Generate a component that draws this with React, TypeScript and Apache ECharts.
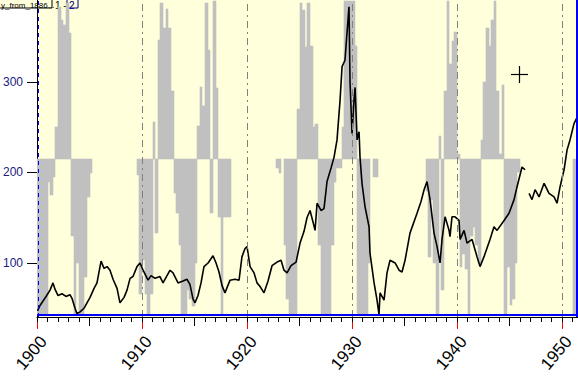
import React, { useEffect, useRef } from "react";
import * as echarts from "echarts";

// Black index line (year, value)
const LINE_YEARS = [
  1900.05, 1900.29, 1900.57, 1900.86, 1901.24, 1901.52, 1901.71, 1902.0, 1902.38, 1902.76,
  1903.14, 1903.33, 1903.62, 1903.81, 1904.1, 1904.48, 1904.76, 1905.05, 1905.43, 1905.71,
  1906.0, 1906.1, 1906.38, 1906.67, 1906.95, 1907.24, 1907.62, 1907.9, 1908.29, 1908.57,
  1908.86, 1909.14, 1909.52, 1909.81, 1910.1, 1910.57, 1910.86, 1911.24, 1911.71, 1912.0,
  1912.38, 1912.67, 1912.95, 1913.43, 1913.9, 1914.29, 1914.57, 1914.86, 1915.05, 1915.33,
  1915.62, 1915.9, 1916.29, 1916.76, 1917.05, 1917.33, 1917.62, 1917.9, 1918.38, 1918.86,
  1919.24, 1919.52, 1919.81, 1920.0, 1920.29, 1920.67, 1920.95, 1921.24, 1921.62, 1922.0,
  1922.38, 1922.86, 1923.24, 1923.52, 1923.81, 1924.19, 1924.67, 1925.05, 1925.43, 1925.71,
  1926.0, 1926.29, 1926.48, 1926.67, 1927.05, 1927.33, 1927.62, 1928.0, 1928.29, 1928.57,
  1928.86, 1929.05, 1929.33, 1929.52, 1929.71, 1929.81, 1930.0, 1930.19, 1930.29, 1930.48,
  1930.67, 1930.76, 1930.95, 1931.24, 1931.62, 1931.71, 1932.1, 1932.38, 1932.57, 1932.67,
  1933.05, 1933.33, 1933.62, 1934.1, 1934.48, 1934.76, 1935.05, 1935.52, 1936.19, 1936.57,
  1936.86, 1937.14, 1937.43, 1937.81, 1938.1, 1938.38, 1938.57, 1938.86, 1939.24, 1939.33,
  1939.52, 1939.81, 1940.19, 1940.29, 1940.67, 1940.95, 1941.43, 1941.9, 1942.19, 1942.57,
  1943.14, 1943.52, 1943.81, 1944.48, 1944.95, 1945.43, 1945.71, 1946.19, 1946.48, 1946.65,
  1946.86, 1947.14, 1947.43, 1947.81, 1948.29, 1948.76, 1949.24, 1949.52, 1949.81, 1950.19,
  1950.48, 1950.76, 1951.14, 1951.43,
];
const LINE_VALUES: (number | null)[] = [
  47, 53, 58, 63, 70, 78, 71, 64, 66, 63,
  65, 61, 50, 44, 46, 50, 56, 62, 72, 78,
  96, 102, 94, 96, 92, 82, 72, 56, 62, 70,
  83, 85, 96, 100, 92, 81, 86, 83, 85, 78,
  86, 92, 89, 78, 80, 82, 76, 60, 56, 64,
  78, 96, 100, 108, 100, 90, 75, 67, 81, 82,
  81, 107, 116, 118, 96, 89, 78, 74, 67, 80,
  97, 101, 103, 92, 89, 97, 101, 122, 135, 150,
  158, 145, 136, 166, 158, 160, 190, 205, 217, 236,
  280, 317, 324, 354, 383, 300, 243, 280, 294, 236,
  245, 217, 188, 162, 140, 111, 78, 59, 43, 67,
  59, 89, 103, 100, 92, 90, 103, 133, 155, 168,
  181, 190, 170, 133, 118, 100, 126, 151, 136, 129,
  151, 151, 147, 126, 136, 122, 126, 107, 96, 107,
  126, 140, 136, 147, 155, 170, 184, 206, 203, null,
  177, 170, 181, 173, 188, 177, 173, 166, 184, 203,
  225, 236, 254, 261,
];

// Gray oscillator bars (quarter-year buckets, drawn from the baseline)
const BAR_BASE = 215;
const BAR_WIDTH = 0.25;
const BAR_YEARS = [
  1900, 1900.25, 1900.5, 1900.75, 1901, 1901.25, 1901.5, 1901.75, 1902, 1902.25, 1902.5, 1902.75,
  1903, 1903.25, 1903.5, 1903.75, 1904, 1904.25, 1904.5, 1904.75, 1905,
  1909.5, 1909.75, 1910, 1910.25, 1910.5, 1910.75, 1911, 1911.25, 1911.5, 1911.75, 1912, 1912.25,
  1912.5, 1912.75, 1913, 1913.25, 1913.5, 1913.75, 1914, 1914.25, 1914.5, 1914.75, 1915, 1915.25,
  1915.5, 1915.75, 1916, 1916.25, 1916.5, 1916.75, 1917, 1917.25, 1917.5, 1917.75, 1918, 1918.25,
  1922.75, 1923, 1923.5, 1923.75, 1924, 1924.25, 1924.5, 1924.75, 1925, 1925.25, 1925.5, 1925.75,
  1926, 1926.25, 1926.5, 1926.75, 1927, 1927.25, 1927.5, 1927.75, 1928, 1928.25, 1928.5, 1928.75,
  1929, 1929.25, 1929.5, 1929.75, 1930, 1930.25, 1930.5, 1930.75, 1931, 1931.25, 1931.5, 1932, 1932.25,
  1937, 1937.25, 1937.5, 1937.75, 1938, 1938.25, 1938.5, 1938.75, 1939, 1939.25, 1939.5, 1939.75,
  1940, 1940.25, 1940.5, 1940.75, 1941, 1941.25, 1941.5, 1941.75, 1942, 1942.25, 1942.5, 1942.75,
  1943, 1943.25, 1943.5, 1943.75, 1944, 1944.25, 1944.5, 1944.75, 1945, 1945.25, 1945.5, 1945.75,
  1951, 1951.25,
];
const BAR_VALUES = [
  42, 42, 42, 42, 190, 175, 195, 250, 383, 369, 363, 387,
  354, 130, 42, 100, 42, 42, 85, 173, 199,
  197, 66, 103, 66, 42, 66, 256, 133, 346, 387, 360, 381,
  360, 290, 177, 155, 120, 42, 42, 70, 60, 52, 100, 251,
  295, 273, 387, 335, 155, 390, 293, 151, 42, 151, 151, 151,
  205, 199, 120, 60, 42, 42, 42, 270, 387, 380, 339, 387,
  340, 250, 254, 120, 42, 42, 42, 42, 120, 190, 205, 205,
  250, 390, 390, 390, 390, 340, 42, 42, 42, 42, 100, 195, 195,
  180, 107, 170, 100, 42, 240, 70, 290, 390, 320, 345, 355,
  220, 96, 110, 93, 42, 130, 140, 120, 100, 236, 300, 360,
  340, 368, 390, 290, 220, 297, 42, 96, 54, 60, 100, 200,
  42, 42,
];

const DECADE_LABELS = [1900, 1910, 1920, 1930, 1940, 1950];
const HALF_DECADES = [1905, 1915, 1925, 1935, 1945];
const YEAR_TICKS = Array.from({ length: 52 }, (_, i) => 1900 + i);
const Y_LABELS = [100, 200, 300];
const DASHED_YEARS = [1910, 1920, 1930, 1940, 1950];

const X_MIN = 1900;
const X_MAX = 1951.52;
const Y_MIN = 40.3;
const Y_MAX = 390.6;

const FONT = "Arial, 'Liberation Sans', sans-serif";

export default function App() {
  const ref = useRef<HTMLDivElement>(null);
  useEffect(() => {
    document.body.style.margin = "0";
    if (!ref.current) return;
    const chart = echarts.init(ref.current, undefined, { renderer: "svg" });

    const baseX = {
      type: "value" as const,
      min: X_MIN,
      max: X_MAX,
      position: "bottom" as const,
      offset: 0,
      splitLine: { show: false },
    };

    const lineData = LINE_YEARS.map((y, i) => [y, LINE_VALUES[i]]);
    const barData = BAR_YEARS.map((y, i) => [y, BAR_VALUES[i]]);

    chart.setOption({
      animation: false,
      backgroundColor: "#ffffff",
      grid: {
        left: 37,
        right: 0,
        top: 0,
        bottom: 67,
        show: true,
        backgroundColor: "#FFFFDC",
        borderWidth: 0,
      },
      xAxis: [
        {
          ...baseX,
          axisLine: { show: true, lineStyle: { color: "#000", width: 1 } },
          axisTick: {
            show: true,
            length: 12,
            customValues: DECADE_LABELS,
            lineStyle: { color: "#ff0000", width: 1 },
          },
          axisLabel: {
            show: true,
            customValues: DECADE_LABELS,
            rotate: 50,
            margin: 16,
            verticalAlign: "top",
            fontSize: 17,
            fontFamily: FONT,
            color: "#000",
            formatter: (v: number) => String(Math.round(v)),
          },
        },
        {
          ...baseX,
          axisLine: { show: false },
          axisLabel: { show: false },
          axisTick: {
            show: true,
            length: 9,
            customValues: HALF_DECADES,
            lineStyle: { color: "#000", width: 1 },
          },
        },
        {
          ...baseX,
          axisLine: { show: false },
          axisLabel: { show: false },
          axisTick: {
            show: true,
            length: 5,
            customValues: YEAR_TICKS,
            lineStyle: { color: "#000", width: 1 },
          },
        },
      ],
      yAxis: {
        type: "value",
        min: Y_MIN,
        max: Y_MAX,
        axisLine: { show: true, lineStyle: { color: "#000", width: 1 } },
        axisTick: {
          show: true,
          length: 10,
          customValues: Y_LABELS,
          lineStyle: { color: "#000", width: 1 },
        },
        axisLabel: {
          show: true,
          customValues: Y_LABELS,
          margin: 14,
          fontSize: 12,
          fontFamily: FONT,
          color: "#1a1a80",
        },
        splitLine: { show: false },
      },
      series: [
        {
          type: "custom",
          xAxisIndex: 0,
          yAxisIndex: 0,
          clip: true,
          data: barData,
          renderItem: (params: any, api: any) => {
            const x = api.value(0);
            const v = api.value(1);
            const p0 = api.coord([x, BAR_BASE]);
            const p1 = api.coord([x + BAR_WIDTH, v]);
            const x0 = Math.round(p0[0]);
            const x1 = Math.round(p1[0]);
            const y0 = Math.round(Math.min(p0[1], p1[1]));
            const y1 = Math.round(Math.max(p0[1], p1[1]));
            return {
              type: "rect",
              shape: { x: x0, y: y0, width: x1 - x0, height: y1 - y0 },
              style: { fill: "#C0C0C0", stroke: "#C0C0C0", lineWidth: 0.6 },
            };
          },
          z: 1,
        },
        {
          type: "line",
          xAxisIndex: 0,
          yAxisIndex: 0,
          data: lineData,
          showSymbol: false,
          connectNulls: false,
          lineStyle: { color: "#000", width: 1.6 },
          z: 3,
          markLine: {
            silent: true,
            symbol: ["none", "none"],
            label: { show: false },
            data: [
              ...DASHED_YEARS.map((y) => ({
                xAxis: y,
                lineStyle: { color: "#808080", width: 1, type: [7, 4, 2, 4] },
              })),
              { yAxis: 42.6, lineStyle: { color: "#0000ff", width: 2, type: "solid" } },
              { xAxis: 1951.43, lineStyle: { color: "#0000ff", width: 2, type: "solid" } },
              { xAxis: 1900.1, lineStyle: { color: "#0000ff", width: 1, type: [4, 4] } },
            ],
          },
        },
      ],
      graphic: [
        {
          type: "group",
          silent: true,
          children: [
            {
              type: "rect",
              shape: { x: -1, y: -4, width: 53, height: 12 },
              style: { fill: "#FFFFDC", stroke: "#000", lineWidth: 1 },
            },
            {
              type: "text",
              x: 1,
              y: 9,
              style: {
                text: "y_from_1886...",
                fontSize: 8,
                fontFamily: FONT,
                fill: "#000",
                textVerticalAlign: "bottom",
              },
            },
            {
              type: "text",
              x: 55,
              y: 10,
              style: {
                text: "1 -",
                fontSize: 10,
                fontFamily: FONT,
                fill: "#000",
                textVerticalAlign: "bottom",
              },
            },
            {
              type: "rect",
              shape: { x: 67, y: -4, width: 11, height: 12 },
              style: { fill: "transparent", stroke: "#000080", lineWidth: 1 },
            },
            {
              type: "text",
              x: 69,
              y: 10,
              style: {
                text: "2",
                fontSize: 10,
                fontFamily: FONT,
                fill: "#000080",
                textVerticalAlign: "bottom",
              },
            },
          ],
        },
        {
          type: "group",
          silent: true,
          children: [
            {
              type: "line",
              shape: { x1: 511, y1: 74.5, x2: 528, y2: 74.5 },
              style: { stroke: "#000", lineWidth: 1.2 },
            },
            {
              type: "line",
              shape: { x1: 519.5, y1: 66, x2: 519.5, y2: 83 },
              style: { stroke: "#000", lineWidth: 1.2 },
            },
          ],
        },
      ],
    });
    return () => chart.dispose();
  }, []);
  return <div ref={ref} style={{ width: 578, height: 384 }} />;
}
